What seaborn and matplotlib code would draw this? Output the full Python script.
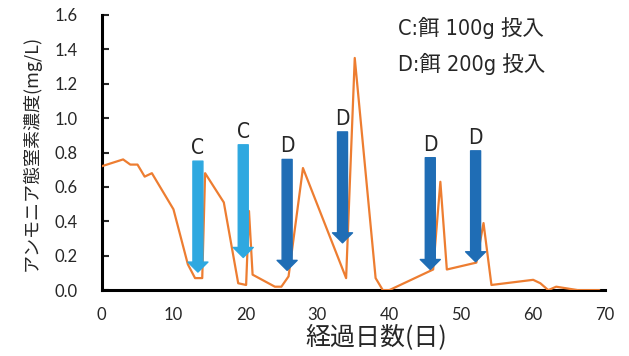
import numpy as np
import pandas as pd
import seaborn as sns
import matplotlib.pyplot as plt

sns.set_style("ticks")
plt.rcParams["font.family"] = ["Lato", "Noto Sans CJK JP", "DejaVu Sans"]

# Ammonia nitrogen concentration over elapsed days
days = [0, 3, 4, 5, 6, 7, 10, 12, 13, 14, 14.4, 17, 19, 20.1, 20.5, 21, 24.1, 25,
        26, 28, 34, 35.2, 38.1, 39.1, 40, 46.1, 47.1, 48, 52.1, 53.1, 54.2, 60,
        61, 62.1, 63.2, 66.2, 69.2]
conc = [0.72, 0.76, 0.73, 0.73, 0.66, 0.68, 0.47, 0.15, 0.07, 0.07, 0.68, 0.51,
        0.04, 0.03, 0.46, 0.09, 0.02, 0.02, 0.08, 0.71, 0.07, 1.35, 0.07, 0.0,
        0.0, 0.12, 0.63, 0.12, 0.16, 0.39, 0.03, 0.06, 0.04, 0.0, 0.02, 0.0, 0.0]

# Feeding events (arrows)
feed_day = [13.4, 19.7, 25.8, 33.5, 45.7, 52.0]
feed_top = [0.75, 0.845, 0.76, 0.92, 0.77, 0.81]
feed_tip = [0.105, 0.19, 0.115, 0.275, 0.12, 0.165]
feed_type = ["C", "C", "D", "D", "D", "D"]

legend_lines = ["C:餌 100g 投入", "D:餌 200g 投入"]

df = pd.DataFrame({"day": days, "conc": conc})

fig = plt.figure(figsize=(6.29, 3.56), dpi=100)
ax = fig.add_axes([0.1614, 0.185, 0.8006, 0.773])

sns.lineplot(data=df, x="day", y="conc", ax=ax, color="#ED7D31",
             linewidth=1.6, estimator=None, sort=False, zorder=3)

narrow = ["DejaVu Sans Condensed", "DejaVu Sans", "Noto Sans CJK JP"]
colors = {"C": "#2EA8E0", "D": "#1F6DB5"}
for x, top, tip, t in zip(feed_day, feed_top, feed_tip, feed_type):
    ax.annotate("", xy=(x, tip), xytext=(x, top),
                arrowprops=dict(arrowstyle="simple,head_length=0.72,head_width=1.44,tail_width=0.72",
                                mutation_scale=10, color=colors[t],
                                shrinkA=0, shrinkB=0), zorder=3)
    ax.annotate(t, xy=(x, top), xytext=(0, 5), textcoords="offset points",
                ha="center", va="baseline", fontsize=15,
                family=narrow, stretch="condensed")

for i, s in enumerate(legend_lines):
    ax.text(41.2, 1.525 - i * 0.21, s, ha="left", va="center", fontsize=15.5,
            family=narrow, stretch="condensed")

ax.set_xlim(0, 70)
ax.set_ylim(0, 1.6)
ax.set_xticks(np.arange(0, 71, 10))
ax.set_yticks(np.arange(0, 1.61, 0.2))
ax.set_yticklabels([f"{v:.1f}" for v in np.arange(0, 1.61, 0.2)])
ax.tick_params(axis="x", length=0, labelsize=12, pad=12)
ax.tick_params(axis="y", direction="in", length=5, width=1.5, labelsize=12, pad=17)

for s in ["top", "right"]:
    ax.spines[s].set_visible(False)
for s in ["left", "bottom"]:
    ax.spines[s].set_linewidth(2.2)
    ax.spines[s].set_color("black")

ax.set_xlabel("経過日数(日)", fontsize=18, family=["Noto Sans CJK JP"])
ax.xaxis.set_label_coords(0.545, -0.125)
ax.set_ylabel("アンモニア態窒素濃度(mg/L)", fontsize=13, family=["Noto Sans CJK JP"])
ax.yaxis.set_label_coords(-0.12, 0.5)

fig.savefig("out.png", dpi=100)
plt.close(fig)
